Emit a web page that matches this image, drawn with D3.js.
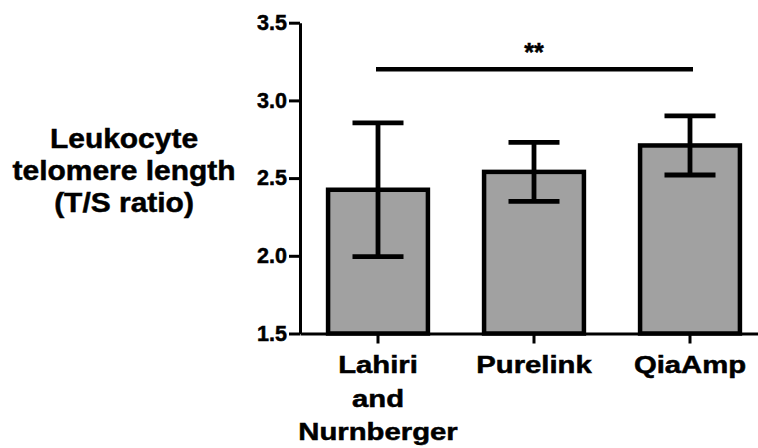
<!DOCTYPE html>
<html>
<head>
<meta charset="utf-8">
<script src="https://cdn.jsdelivr.net/npm/d3@7"></script>
<style>
  body { margin: 0; background: #fff; }
  svg { display: block; }
  text { font-family: "Liberation Sans", Arial, sans-serif; font-weight: bold; fill: #000; stroke: #000; stroke-width: 0.5px; }
</style>
</head>
<body>
<div class="chart"></div>
<script>
const width = 758;
const height = 448;

// data
const groups = ["Lahiri and Nurnberger", "Purelink", "QiaAmp"];
const groupLines = [["Lahiri", "and", "Nurnberger"], ["Purelink"], ["QiaAmp"]];
const means = [2.425, 2.54, 2.71];
const errs = [0.43, 0.19, 0.19];
const yTicks = [1.5, 2.0, 2.5, 3.0, 3.5];
const titleLines = ["Leukocyte", "telomere length", "(T/S ratio)"];
const sigFrom = "Lahiri and Nurnberger";
const sigTo = "QiaAmp";
const sigValue = 3.2;
const sigText = "**";

const svg = d3.select(".chart")
  .append("svg")
  .attr("width", width)
  .attr("height", height);

// scales
const x = d3.scaleBand()
  .domain(groups)
  .range([300, 768])
  .paddingInner(0.36)
  .paddingOuter(0.18);

const y = d3.scaleLinear()
  .domain([1.5, 3.5])
  .range([333.5, 22.7]);

// bars
svg.append("g")
  .selectAll("rect")
  .data(groups)
  .join("rect")
  .attr("x", d => x(d))
  .attr("width", x.bandwidth())
  .attr("y", (d, i) => y(means[i]))
  .attr("height", (d, i) => y(1.5) - y(means[i]))
  .attr("fill", "#a1a1a1")
  .attr("stroke", "#000")
  .attr("stroke-width", 4.5);

// error bars
const capW = 51;
const eb = svg.append("g")
  .attr("stroke", "#000")
  .attr("stroke-width", 4.8);

groups.forEach((g, i) => {
  const cx = x(g) + x.bandwidth() / 2;
  const lo = y(means[i] - errs[i]);
  const hi = y(means[i] + errs[i]);
  eb.append("line").attr("x1", cx).attr("x2", cx).attr("y1", lo).attr("y2", hi);
  eb.append("line").attr("x1", cx - capW / 2).attr("x2", cx + capW / 2).attr("y1", lo).attr("y2", lo);
  eb.append("line").attr("x1", cx - capW / 2).attr("x2", cx + capW / 2).attr("y1", hi).attr("y2", hi);
});

// y axis
const yAxis = d3.axisLeft(y)
  .tickValues(yTicks)
  .tickFormat(d3.format(".1f"))
  .tickSize(11)
  .tickSizeOuter(0)
  .tickPadding(2);

const gy = svg.append("g")
  .attr("transform", "translate(300,0)")
  .call(yAxis);
gy.select(".domain").attr("stroke-width", 3);
gy.selectAll(".tick line").attr("stroke-width", 3);
gy.selectAll(".tick text").attr("font-size", 21.5).attr("fill", "#000");

// x axis
const xAxis = d3.axisBottom(x)
  .tickSize(10)
  .tickSizeOuter(0)
  .tickFormat("");

const gx = svg.append("g")
  .attr("transform", "translate(0," + y(1.5) + ")")
  .call(xAxis);
gx.select(".domain").attr("stroke-width", 3);
gx.selectAll(".tick line").attr("stroke-width", 3);
gx.selectAll(".tick text").remove();

gx.selectAll(".tick")
  .each(function(d, i) {
    const lab = d3.select(this).append("g")
      .attr("transform", "scale(1.22,1)");
    groupLines[i].forEach((t, k) => {
      lab.append("text")
        .attr("text-anchor", "middle")
        .attr("y", 40 + k * 33.5)
        .attr("font-size", 24)
        .text(t);
    });
  });

// y title
const title = svg.append("g");
titleLines.forEach((t, k) => {
  title.append("text")
    .attr("transform", "translate(124," + (148 + k * 32) + ") scale(1.07,1)")
    .attr("text-anchor", "middle")
    .attr("font-size", 28)
    .text(t);
});

// significance line
const x1 = x(sigFrom) + x.bandwidth() / 2;
const x2 = x(sigTo) + x.bandwidth() / 2;
svg.append("line")
  .attr("x1", x1 - 2)
  .attr("x2", x2 + 3)
  .attr("y1", y(sigValue))
  .attr("y2", y(sigValue))
  .attr("stroke", "#000")
  .attr("stroke-width", 4.5);

svg.append("text")
  .attr("x", (x1 + x2) / 2)
  .attr("y", 61)
  .attr("text-anchor", "middle")
  .attr("font-size", 25)
  .text(sigText);
</script>
</body>
</html>
